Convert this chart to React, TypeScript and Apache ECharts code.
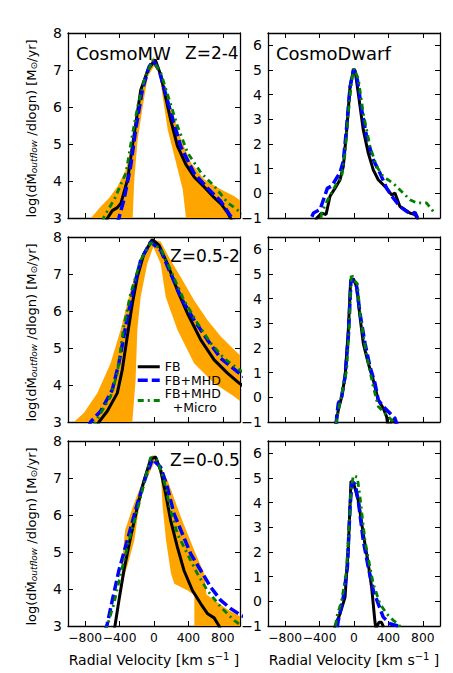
import React, { useEffect, useRef } from 'react';
import * as echarts from 'echarts';

type P = [number, number];

// ---- CosmoMW, Z=2-4 ----
const mw24FB: P[] = [[-570,2.85],[-540,3.0],[-485,3.2],[-427,3.28],[-384,3.4],[-306,4.05],[-235,5.2],[-155,6.45],[-72,7.0],[15,7.28],[80,6.85],[136,6.25],[194,5.65],[272,4.95],[370,4.45],[469,4.1],[600,3.8],[700,3.55],[779,3.38],[857,3.14],[910,2.9]];
const mw24MHD: P[] = [[-430,2.85],[-408,3.0],[-350,3.49],[-272,4.39],[-214,5.38],[-136,6.46],[-58,7.08],[-10,7.26],[58,7.0],[155,6.19],[233,5.56],[311,4.93],[466,4.21],[621,3.81],[777,3.45],[893,3.04],[930,2.9]];
const mw24Micro: P[] = [[-600,2.9],[-578,3.05],[-462,3.5],[-326,4.22],[-248,5.3],[-190,6.01],[-113,6.73],[-15,7.27],[81,6.91],[178,6.19],[275,5.47],[392,4.76],[547,4.22],[702,3.86],[857,3.41],[992,3.18],[1050,3.1]];
const mw24BandHi: P[] = [[-1050,2.5],[-760,2.9],[-733,3.0],[-616,3.32],[-520,3.55],[-422,3.86],[-326,4.31],[-248,5.12],[-151,6.28],[-66,7.09],[-8,7.35],[81,6.9],[198,5.95],[314,5.12],[430,4.49],[585,4.04],[779,3.77],[934,3.59],[1050,3.4]];
const mw24BandLo: P[] = [[-1050,2.0],[-255,2.0],[-248,3.0],[-229,4.04],[-190,5.12],[-131,6.01],[-73,6.82],[0,7.1],[62,6.91],[101,6.28],[159,5.39],[256,4.49],[334,3.77],[372,3.0],[380,2.0],[1050,2.0]];

// ---- CosmoMW, Z=0.5-2 ----
const mw052FB: P[] = [[-680,2.8],[-641,3.0],[-544,3.29],[-427,3.78],[-369,4.41],[-311,5.31],[-252,6.2],[-194,6.92],[-117,7.55],[-19,7.93],[58,7.78],[155,7.28],[272,6.56],[388,5.94],[544,5.22],[699,4.68],[854,4.32],[990,4.05],[1050,3.95]];
const mw052MHD: P[] = [[-760,2.85],[-738,3.0],[-621,3.29],[-485,3.87],[-408,4.59],[-330,5.58],[-252,6.47],[-155,7.37],[-39,7.87],[78,7.64],[194,7.01],[330,6.29],[466,5.76],[621,5.22],[777,4.72],[990,4.32],[1050,4.22]];
const mw052Micro: P[] = [[-700,2.85],[-680,3.0],[-505,3.69],[-427,4.32],[-350,5.6],[-272,6.47],[-155,7.37],[-39,7.84],[78,7.69],[194,7.1],[349,6.29],[505,5.67],[660,5.13],[816,4.72],[990,4.41],[1050,4.33]];
const mw052BandHi: P[] = [[-1050,2.7],[-932,3.0],[-816,3.24],[-660,3.78],[-505,4.59],[-388,5.49],[-272,6.56],[-155,7.46],[-39,7.96],[78,7.87],[194,7.37],[311,6.92],[466,6.29],[621,5.76],[777,5.31],[932,4.95],[1050,4.7]];
const mw052BandLo: P[] = [[-1050,2.0],[-260,2.0],[-252,3.0],[-214,4.14],[-194,5.49],[-155,6.38],[-78,7.28],[-8,7.73],[78,7.28],[136,6.38],[272,5.49],[466,4.59],[699,4.05],[932,3.69],[1050,3.48]];

// ---- CosmoMW, Z=0-0.5 ----
const mw005FB: P[] = [[-480,2.8],[-454,3.0],[-408,3.69],[-350,4.5],[-272,5.4],[-194,6.21],[-117,6.93],[-39,7.51],[19,7.57],[78,7.2],[136,6.57],[194,5.85],[272,5.13],[349,4.5],[447,3.96],[544,3.6],[624,3.33],[699,3.22],[757,3.0],[780,2.85]];
const mw005MHD: P[] = [[-570,2.85],[-544,3.05],[-485,3.69],[-408,4.5],[-311,5.31],[-194,6.3],[-97,7.02],[-19,7.51],[78,7.29],[155,6.75],[233,6.03],[330,5.49],[427,4.95],[544,4.5],[660,4.05],[777,3.69],[893,3.47],[1010,3.29],[1050,3.25]];
const mw005Micro: P[] = [[-570,2.85],[-544,3.0],[-466,3.6],[-388,4.41],[-291,5.31],[-194,6.12],[-117,6.84],[-39,7.56],[39,7.47],[117,6.93],[194,6.12],[272,5.49],[388,4.95],[505,4.41],[621,3.96],[777,3.51],[932,3.15],[1010,3.02],[1050,2.97]];
const mw005BandHi: P[] = [[-380,3.98],[-376,4.6],[-337,5.58],[-248,6.21],[-131,6.93],[-15,7.63],[60,7.4],[159,6.93],[314,5.94],[469,5.04],[585,4.41],[610,3.85],[700,3.7],[850,3.45],[1050,3.2]];
const mw005BandLo: P[] = [[-380,3.98],[-337,4.42],[-300,4.7],[-229,5.31],[-174,6.21],[-100,6.9],[20,7.5],[81,7.02],[101,6.21],[140,5.31],[198,4.41],[236,4.14],[392,3.96],[469,3.83],[470,2.0],[1050,2.0]];

// ---- CosmoDwarf, Z=2-4 ----
const dw24FB: P[] = [[-450,-1.2],[-433,-1.0],[-375,-0.8],[-325,-0.86],[-279,-0.12],[-220,0.21],[-162,0.55],[-124,1.09],[-85,2.57],[-46,4.32],[-8,4.99],[12,4.99],[50,4.05],[108,2.57],[166,1.63],[224,0.95],[282,0.55],[379,0.21],[437,-0.06],[476,0.01],[534,-0.53],[592,-0.66],[650,-0.8],[708,-0.86],[747,-1.07]];
const dw24MHD: P[] = [[-490,-0.95],[-472,-0.8],[-395,-0.66],[-310,0.2],[-259,0.3],[-162,0.85],[-124,1.3],[-85,2.7],[-46,4.3],[-4,5.05],[39,4.6],[89,3.4],[147,2.3],[224,1.36],[302,0.82],[379,0.21],[456,-0.19],[534,-0.53],[611,-0.73],[669,-0.86],[708,-0.77],[740,-1.0]];
const dw24Micro: P[] = [[-385,-1.0],[-375,-0.8],[-317,-0.33],[-201,0.41],[-143,0.68],[-104,1.63],[-66,3.24],[-27,4.59],[0,5.06],[50,4.65],[108,3.24],[186,1.9],[263,1.09],[340,0.68],[456,0.41],[573,0.01],[650,-0.26],[727,-0.39],[843,-0.39],[921,-0.73],[940,-0.8]];

// ---- CosmoDwarf, Z=0.5-2 ----
const dw052FB: P[] = [[-220,-1.2],[-209,-1.0],[-182,-0.51],[-143,0.03],[-104,0.84],[-66,2.73],[-39,4.75],[-8,4.81],[31,4.48],[70,3.26],[108,2.19],[166,1.38],[224,0.7],[282,-0.11],[340,-0.44],[379,-0.78],[391,-1.05],[405,-1.3],[437,-0.98],[470,-0.88],[480,-1.1]];
const dw052MHD: P[] = [[-205,-1.1],[-201,-0.78],[-182,-0.24],[-143,0.03],[-104,0.84],[-66,2.46],[-35,4.75],[-8,4.75],[31,4.48],[70,3.4],[128,2.19],[186,1.24],[244,0.57],[282,-0.11],[340,-0.37],[437,-0.71],[476,-0.85],[500,-1.1]];
const dw052Micro: P[] = [[-210,-1.1],[-201,-0.91],[-162,-0.17],[-116,0.57],[-85,1.11],[-58,2.73],[-31,5.02],[0,4.75],[39,4.61],[70,3.4],[116,2.32],[166,1.38],[224,0.43],[282,-0.37],[340,-0.58],[398,-0.78],[456,-0.98],[470,-1.1]];

// ---- CosmoDwarf, Z=0-0.5 ----
const dw005FB: P[] = [[-230,-1.15],[-220,-1.0],[-162,-0.5],[-104,0.17],[-66,2.19],[-35,4.87],[-8,4.83],[50,4.08],[108,2.73],[166,1.52],[205,0.57],[244,-0.84],[255,-1.1],[290,-0.85],[320,-0.85],[345,-1.05]];
const dw005MHD: P[] = [[-195,-1.05],[-182,-0.77],[-124,0.17],[-77,1.38],[-46,3.81],[-23,4.83],[12,4.76],[50,4.08],[108,2.46],[166,1.38],[224,0.44],[282,-0.1],[340,-0.64],[418,-0.91],[514,-1.0],[530,-1.05]];
const dw005Micro: P[] = [[-215,-1.0],[-201,-0.64],[-143,0.04],[-93,1.11],[-66,2.46],[-35,4.49],[-8,5.1],[39,5.03],[70,4.22],[128,2.46],[186,1.38],[224,0.71],[302,-0.1],[379,-0.5],[456,-0.77],[514,-0.91],[540,-1.05]];

const xTicks = [-800, -400, 0, 400, 800];
const xLabelsA = [-800, 0, 800];
const xLabelsB = [-400, 400];
const mwYTicks = [3, 4, 5, 6, 7, 8];
const dwYTicks = [-1, 0, 1, 2, 3, 4, 5, 6];
const seriesNames = ['FB', 'FB+MHD', 'FB+MHD\n  +Micro'];

const FONT = 'DejaVu Sans';
const BLACK = '#000000';
const BLUE = '#0000ff';
const GREEN = '#008000';
const ORANGE = '#ffa500';

const colLeft = [68, 268];
const rowTop = [33, 237, 441];
const PW = 172;
const PH = 185;

interface Panel {
  lines: P[][];
  band?: { hi: P[]; lo: P[] };
  yMin: number;
  yMax: number;
  yTicks: number[];
}

const panels: Panel[] = [
  { lines: [mw24FB, mw24MHD, mw24Micro], band: { hi: mw24BandHi, lo: mw24BandLo }, yMin: 3, yMax: 8, yTicks: mwYTicks },
  { lines: [dw24FB, dw24MHD, dw24Micro], yMin: -1, yMax: 6.5, yTicks: dwYTicks },
  { lines: [mw052FB, mw052MHD, mw052Micro], band: { hi: mw052BandHi, lo: mw052BandLo }, yMin: 3, yMax: 8, yTicks: mwYTicks },
  { lines: [dw052FB, dw052MHD, dw052Micro], yMin: -1, yMax: 6.5, yTicks: dwYTicks },
  { lines: [mw005FB, mw005MHD, mw005Micro], band: { hi: mw005BandHi, lo: mw005BandLo }, yMin: 3, yMax: 8, yTicks: mwYTicks },
  { lines: [dw005FB, dw005MHD, dw005Micro], yMin: -1, yMax: 6.5, yTicks: dwYTicks },
];

const lineStyles = [
  { color: BLACK, width: 3, type: 'solid' as any },
  { color: BLUE, width: 3.5, type: [10, 4] as any },
  { color: GREEN, width: 2.8, type: [6, 4, 2, 4] as any },
];

const fmt = (v: number) => (v < 0 ? '\u2212' + Math.abs(v) : String(v));

function buildOption() {
  const grids: any[] = [];
  const xBottom: any[] = [];
  const xTop: any[] = [];
  const xBottom2: any[] = [];
  const yLeft: any[] = [];
  const yRight: any[] = [];
  const series: any[] = [];
  const graphics: any[] = [];

  const axisLine = { show: true, onZero: false, lineStyle: { color: BLACK, width: 1.3 } };
  const labelStyle = { color: BLACK, fontSize: 14, fontFamily: FONT, showMinLabel: true, showMaxLabel: true, hideOverlap: false };
  const xLabelStyle = { ...labelStyle, fontSize: 12.3 };

  panels.forEach((p, g) => {
    const row = Math.floor(g / 2);
    const col = g % 2;
    grids.push({ left: colLeft[col], top: rowTop[row], width: PW, height: PH, containLabel: false, outerBoundsMode: 'none' });
    const tick = (vals: number[]) => ({ show: true, inside: true, length: 5, customValues: vals, lineStyle: { color: BLACK, width: 1 } });
    const xBase = { type: 'value', gridIndex: g, min: -1000, max: 1000, splitLine: { show: false }, axisLine, axisTick: tick(xTicks) };
    xBottom.push({
      ...xBase,
      position: 'bottom',
      axisLabel: { ...xLabelStyle, show: row === 2, customValues: xLabelsA, formatter: fmt, margin: 6 },
    });
    xTop.push({ ...xBase, position: 'top', axisLabel: { show: false } });
    xBottom2.push({
      type: 'value', gridIndex: g, min: -1000, max: 1000, position: 'bottom',
      splitLine: { show: false }, axisLine: { show: false }, axisTick: { show: false },
      axisLabel: { ...xLabelStyle, show: row === 2, customValues: xLabelsB, formatter: fmt, margin: 6 },
    });
    const yBase = { type: 'value', gridIndex: g, min: p.yMin, max: p.yMax, splitLine: { show: false }, axisLine, axisTick: tick(p.yTicks) };
    yLeft.push({
      ...yBase,
      position: 'left',
      axisLabel: { ...labelStyle, show: true, customValues: p.yTicks, formatter: fmt, margin: 6 },
    });
    yRight.push({ ...yBase, position: 'right', axisLabel: { show: false } });

    if (p.band) {
      const poly: P[] = [...p.band.hi, ...p.band.lo.slice().reverse()];
      series.push({
        type: 'custom',
        xAxisIndex: g,
        yAxisIndex: g,
        clip: true,
        silent: true,
        z: 1,
        data: poly,
        encode: { x: 0, y: 1 },
        renderItem: (params: any, api: any) => {
          if (params.dataIndex !== 0) return null;
          const pts = poly.map((pt) => api.coord(pt));
          return { type: 'polygon', shape: { points: pts }, style: { fill: ORANGE, stroke: null } };
        },
      });
    }
    p.lines.forEach((d, i) => {
      series.push({
        type: 'line',
        name: seriesNames[i],
        xAxisIndex: g,
        yAxisIndex: g,
        data: d,
        symbol: 'none',
        showSymbol: false,
        clip: true,
        z: 2,
        lineStyle: lineStyles[i],
      });
    });
  });

  const textBase = (x: number, y: number, text: string, size: number) => ({
    type: 'text',
    x,
    y,
    style: { text, fontSize: size, fontFamily: FONT, fill: BLACK, align: 'left', verticalAlign: 'middle', textAlign: 'left', textVerticalAlign: 'middle' },
  });
  graphics.push(textBase(76, 53, 'CosmoMW', 18));
  graphics.push(textBase(185, 53, 'Z=2-4', 17));
  graphics.push(textBase(170, 256, 'Z=0.5-2', 17));
  graphics.push(textBase(170, 460, 'Z=0-0.5', 17));
  graphics.push(textBase(276, 53, 'CosmoDwarf', 18));

  const yTitleRich = {
    m: { fontSize: 13, fontFamily: FONT, fill: BLACK, color: BLACK, lineHeight: 14, verticalAlign: 'middle' },
    s: { fontSize: 9, fontFamily: FONT, fontStyle: 'italic', fill: BLACK, color: BLACK, lineHeight: 8, verticalAlign: 'bottom' },
    o: { fontSize: 9, fontFamily: FONT, fill: BLACK, color: BLACK, lineHeight: 8, verticalAlign: 'bottom' },
  };
  rowTop.forEach((t) => {
    graphics.push({
      type: 'text',
      x: 31,
      y: t + PH / 2 + 3,
      rotation: Math.PI / 2,
      style: {
        text: '{m|log(d\u1E40}{s|outflow}{m| /dlogn) [M}{o|\u2299}{m|/yr]}',
        rich: yTitleRich,
        fontFamily: FONT,
        fill: BLACK,
        align: 'center',
        verticalAlign: 'middle',
        textAlign: 'center',
        textVerticalAlign: 'middle',
      },
    });
  });

  const xTitleRich = {
    m: { fontSize: 14, fontFamily: FONT, fill: BLACK, color: BLACK, lineHeight: 17, verticalAlign: 'middle' },
    p: { fontSize: 10, fontFamily: FONT, fill: BLACK, color: BLACK, lineHeight: 10, verticalAlign: 'top' },
  };
  colLeft.forEach((l) => {
    graphics.push({
      type: 'text',
      x: l + PW / 2,
      y: 660,
      style: {
        text: '{m|Radial Velocity [km s}{p|\u22121}{m| ]}',
        rich: xTitleRich,
        fontFamily: FONT,
        fill: BLACK,
        align: 'center',
        verticalAlign: 'middle',
        textAlign: 'center',
        textVerticalAlign: 'middle',
      },
    });
  });

  return {
    animation: false,
    backgroundColor: '#ffffff',
    grid: grids,
    xAxis: [...xBottom, ...xTop, ...xBottom2],
    yAxis: [...yLeft, ...yRight],
    legend: {
      show: true,
      left: 136,
      top: 360,
      orient: 'vertical',
      itemWidth: 22,
      itemHeight: 13.5,
      itemGap: 0,
      padding: 0,
      selectedMode: false,
      textStyle: { fontSize: 12.5, fontFamily: FONT, color: BLACK, lineHeight: 13.5 },
      itemStyle: { opacity: 0 },
      data: seriesNames.map((n, i) => ({ name: n, lineStyle: { ...lineStyles[i] }, itemStyle: { opacity: 0 } })),
    },
    series,
    graphic: { elements: graphics },
  };
}

export default function App() {
  const ref = useRef<HTMLDivElement>(null);
  useEffect(() => {
    if (!ref.current) return;
    const chart = echarts.init(ref.current, null, { renderer: 'svg' });
    chart.setOption(buildOption() as any);
    return () => chart.dispose();
  }, []);
  return <div ref={ref} style={{ position: 'absolute', left: 0, top: 0, width: 453, height: 673 }} />;
}
